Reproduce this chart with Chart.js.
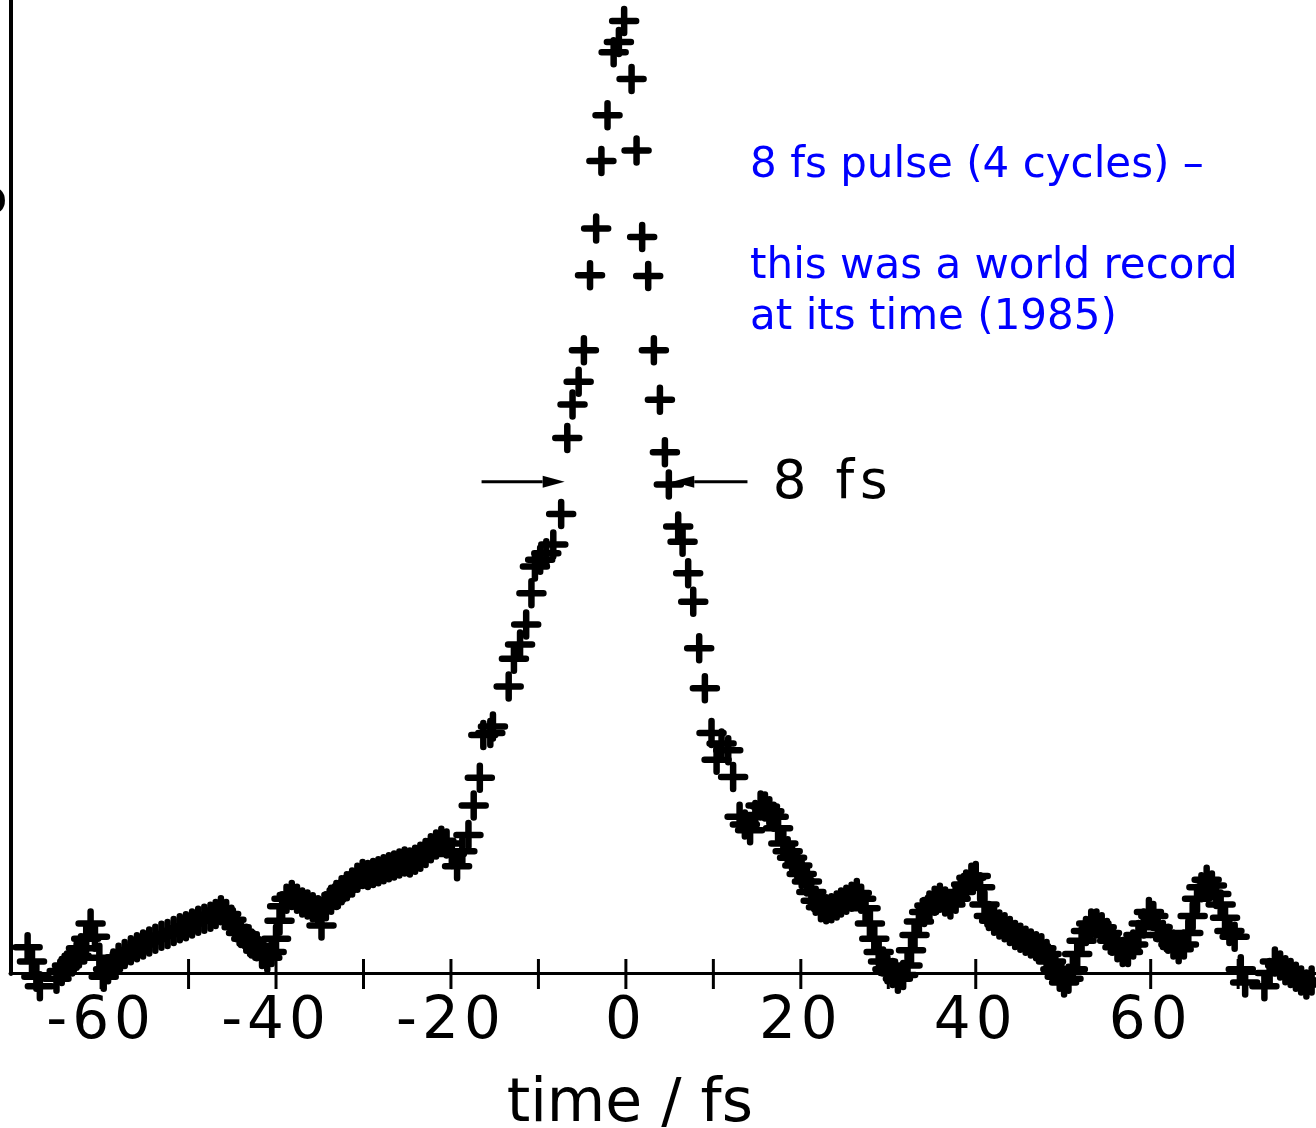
<!DOCTYPE html>
<html>
<head>
<meta charset="utf-8">
<script src="https://cdn.jsdelivr.net/npm/chart.js@4.4.1/dist/chart.umd.min.js"></script>
<style>
  html, body { margin: 0; padding: 0; background: #fff; }
  #wrap { width: 1316px; height: 1128px; }
</style>
</head>
<body>
<div id="wrap"><canvas id="pulseChart"></canvas></div>
<script>
// ─── DATA (time in fs, signal normalised to peak = 1) ───────────────────────
const leftWingTime = [
  -68.4, -67.9, -67.4, -67.0, -66.5, -66.1, -65.6, -65.1, -64.5, -63.9, -63.3, -62.8,
  -62.3, -61.7, -61.2, -60.7, -60.2, -59.7, -59.2, -58.6, -58.0, -57.3, -56.6, -55.9,
  -55.2, -54.5, -53.8, -53.1, -52.4, -51.7, -51.0, -50.3, -49.6, -48.9, -48.2, -47.5,
  -46.9, -46.3, -45.7, -45.1, -44.5, -44.0, -43.4, -42.8, -42.2, -41.6, -41.0, -40.5,
  -40.0, -39.6, -39.3, -38.8, -38.2, -37.6, -37.0, -36.4, -35.8, -35.2, -34.8, -34.3,
  -33.7, -33.1, -32.5, -31.9, -31.3, -30.7, -30.1, -29.5, -28.9, -28.3, -27.7, -27.1,
  -26.5, -25.9, -25.3, -24.7, -24.1, -23.5, -22.9, -22.3, -21.7, -21.1, -20.5, -19.9,
  -19.3, -18.7
];
const leftWingSignal = [
  0.027, 0.012, -0.004, -0.014, -0.028, -0.040, -0.022, -0.006, 0.002, 0.008, 0.012, 0.018,
  0.026, 0.036, 0.052, 0.038, 0.016, -0.004, 0.004, 0.010, 0.016, 0.020, 0.024, 0.027,
  0.030, 0.033, 0.036, 0.039, 0.041, 0.044, 0.047, 0.049, 0.052, 0.055, 0.057, 0.059,
  0.062, 0.066, 0.062, 0.056, 0.048, 0.042, 0.036, 0.031, 0.028, 0.020, 0.016, 0.022,
  0.036, 0.055, 0.070, 0.078, 0.082, 0.078, 0.074, 0.072, 0.069, 0.066, 0.050, 0.070,
  0.077, 0.082, 0.087, 0.091, 0.095, 0.100, 0.104, 0.103, 0.105, 0.107, 0.109, 0.111,
  0.113, 0.115, 0.117, 0.116, 0.119, 0.122, 0.126, 0.131, 0.135, 0.139, 0.136, 0.125,
  0.112, 0.128
];

const pulseTime = [
  -18.0, -17.4, -16.7, -16.3, -15.5, -15.2, -13.4, -12.8, -12.1, -11.4, -10.8, -10.4,
  -9.8, -9.1, -8.3, -7.4, -6.7, -6.1, -5.4, -4.8, -4.1, -3.4, -2.8, -2.1, -1.4, -0.8,
  -0.2, 0.65, 1.22, 1.86, 2.55, 3.2, 3.89, 4.46, 4.91, 5.98, 6.48, 7.12, 7.7, 8.38,
  9.03, 9.79, 10.37, 10.94, 11.7, 12.26
];
const pulseSignal = [
  0.145, 0.176, 0.205, 0.250, 0.252, 0.259, 0.301, 0.330, 0.345, 0.366, 0.399, 0.427,
  0.434, 0.441, 0.450, 0.482, 0.562, 0.597, 0.621, 0.654, 0.733, 0.782, 0.853, 0.901, 0.967, 0.978,
  1.000, 0.939, 0.864, 0.773, 0.732, 0.654, 0.602, 0.547, 0.513, 0.469, 0.453, 0.420, 0.390, 0.341,
  0.299, 0.252, 0.224, 0.241, 0.234, 0.206
];

const rightWingTime = [
  13.0, 13.6, 14.2, 14.8, 15.4, 15.9, 16.4, 16.9, 17.4, 18.0, 18.5, 19.0, 19.6, 20.1,
  20.7, 21.2, 21.7, 22.3, 22.9, 23.5, 24.1, 24.6, 25.2, 25.8, 26.4, 26.9, 27.4, 27.9,
  28.4, 28.9, 29.4, 29.9, 30.5, 31.1, 31.7, 32.2, 32.6, 33.0, 33.5, 34.1, 34.7, 35.3,
  35.9, 36.5, 37.1, 37.7, 38.3, 38.9, 39.5, 40.0, 40.5, 41.0, 41.5, 42.1, 42.7, 43.3,
  43.9, 44.5, 45.1, 45.7, 46.3, 46.9, 47.5, 48.1, 48.6, 49.1, 49.6, 50.1, 50.6, 51.1,
  51.6, 52.1, 52.6, 53.2, 53.8, 54.4, 55.0, 55.6, 56.2, 56.8, 57.4, 58.0, 58.6, 59.2,
  59.8, 60.3, 60.8, 61.4, 62.0, 62.6, 63.2, 63.8, 64.3, 64.8, 65.3, 65.8, 66.4, 67.0,
  67.5, 68.0, 68.5, 69.0, 69.6, 70.3, 70.8, 71.3, 71.9, 72.5, 73.0, 73.6, 74.2, 74.8,
  75.4, 76.0, 76.6, 77.2, 77.8, 78.4
];
const rightWingSignal = [
  0.164, 0.156, 0.150, 0.166, 0.176, 0.175, 0.170, 0.164, 0.152, 0.136, 0.128, 0.121, 0.113, 0.104,
  0.096, 0.085, 0.076, 0.069, 0.067, 0.068, 0.071, 0.074, 0.077, 0.080, 0.084, 0.078, 0.068, 0.052,
  0.036, 0.022, 0.012, 0.004, 0.000, -0.006, -0.002, 0.008, 0.024, 0.040, 0.054, 0.064, 0.071, 0.076,
  0.079, 0.075, 0.072, 0.078, 0.085, 0.093, 0.100, 0.102, 0.090, 0.072, 0.060, 0.055, 0.051, 0.048,
  0.044, 0.040, 0.037, 0.034, 0.031, 0.028, 0.026, 0.020, 0.012, 0.004, -0.004, -0.010, -0.006, 0.004,
  0.020, 0.034, 0.044, 0.052, 0.052, 0.048, 0.042, 0.034, 0.027, 0.022, 0.022, 0.030, 0.040, 0.052,
  0.064, 0.060, 0.048, 0.040, 0.036, 0.030, 0.025, 0.030, 0.042, 0.060, 0.078, 0.090, 0.098, 0.092,
  0.083, 0.072, 0.058, 0.044, 0.038, 0.004, -0.010, -0.029, -0.050, -0.030, -0.014, 0.000, 0.012, 0.008,
  0.003, 0.000, -0.004, -0.008, -0.012, -0.008
];

const xTickLabels = [-60, -40, -20, 0, 20, 40, 60];
const noteLines = ['8 fs pulse (4 cycles) –', '', 'this was a world record', 'at its time (1985)'];

// ─── HELPERS ──────────────────────────────────────────────────────────────────
const toPoints = (ts, vs) => ts.map((t, i) => ({ x: t, y: vs[i] }));
const allPoints = [
  ...toPoints(leftWingTime, leftWingSignal),
  ...toPoints(pulseTime, pulseSignal),
  ...toPoints(rightWingTime, rightWingSignal)
];

function arrow(ctx, x0, x1, y) {
  const dir = Math.sign(x1 - x0);
  const head = 22;
  ctx.beginPath();
  ctx.moveTo(x0, y);
  ctx.lineTo(x1 - dir * head, y);
  ctx.stroke();
  ctx.beginPath();
  ctx.moveTo(x1, y);
  ctx.lineTo(x1 - dir * head, y - 6);
  ctx.lineTo(x1 - dir * head, y + 6);
  ctx.closePath();
  ctx.fill();
}

// extra drawing: crossing tick marks, FWHM arrows, labels
const decorations = {
  id: 'decorations',
  beforeDraw(chart) {
    chart.ctx.letterSpacing = '5px';
    chart.ctx.lineCap = 'round';
  },
  afterDraw(chart) {
    const { ctx, scales: { x, y } } = chart;
    const y0 = y.getPixelForValue(0);
    ctx.save();
    ctx.letterSpacing = '0px';
    ctx.lineCap = 'butt';
    ctx.strokeStyle = '#000';
    ctx.fillStyle = '#000';
    ctx.lineWidth = 3;
    x.ticks.forEach(tk => {
      if (tk.value < -69) return;
      const px = x.getPixelForValue(tk.value);
      ctx.beginPath();
      ctx.moveTo(px, y0 - 14);
      ctx.lineTo(px, y0 + 16);
      ctx.stroke();
    });

    // FWHM arrows
    const ya = y.getPixelForValue(0.516);
    arrow(ctx, x.getPixelForValue(-16.5), x.getPixelForValue(-7.0), ya);
    arrow(ctx, x.getPixelForValue(13.9), x.getPixelForValue(5.3), ya);

    ctx.font = '53px "DejaVu Sans"';
    ctx.letterSpacing = '6px';
    ctx.textAlign = 'left';
    ctx.textBaseline = 'alphabetic';
    ctx.fillText('8 fs', x.getPixelForValue(16.8), y.getPixelForValue(0.499));

    // axis title
    ctx.letterSpacing = '0px';
    ctx.font = '60px "DejaVu Sans"';
    ctx.textAlign = 'center';
    ctx.fillText('time / fs', x.getPixelForValue(0.45), 1121);

    // clipped glyph at left edge
    ctx.font = 'bold 50px "DejaVu Sans"';
    ctx.textAlign = 'right';
    ctx.fillText('o', 7, 214);

    // blue note
    ctx.fillStyle = '#0000ff';
    ctx.font = '42px "DejaVu Sans"';
    ctx.textAlign = 'left';
    const nx = x.getPixelForValue(14.2);
    const ny = y.getPixelForValue(0.836);
    noteLines.forEach((line, i) => ctx.fillText(line, nx, ny + i * 50.5));
    ctx.restore();
  }
};

new Chart(document.getElementById('pulseChart'), {
  type: 'scatter',
  data: {
    datasets: [{
      data: allPoints,
      pointStyle: 'cross',
      pointRadius: 12,
      pointHoverRadius: 12,
      borderWidth: 6.5,
      borderColor: '#000',
      backgroundColor: '#000',
      clip: false
    }]
  },
  options: {
    responsive: true,
    maintainAspectRatio: false,
    animation: false,
    layout: { autoPadding: false, padding: { left: 11, right: 0, top: 0, bottom: 55 } },
    plugins: { legend: { display: false }, tooltip: { enabled: false } },
    scales: {
      x: {
        type: 'linear',
        min: -70.3,
        max: 78.9,
        grid: { display: false, drawTicks: false },
        border: { display: true, color: '#000', width: 3 },
        ticks: {
          stepSize: 10,
          includeBounds: false,
          autoSkip: false,
          maxRotation: 0,
          padding: 21,
          color: '#000',
          font: { family: 'DejaVu Sans', size: 58, lineHeight: 1 },
          callback: v => xTickLabels.includes(v) ? String(v) : ''
        },
        afterFit: s => { s.paddingLeft = 0; s.paddingRight = 0; }
      },
      y: {
        min: 0,
        max: 1.022,
        grid: { display: false, drawTicks: false },
        border: { display: true, color: '#000', width: 4 },
        ticks: { display: false },
        afterFit: s => { s.width = 0; }
      }
    }
  },
  plugins: [decorations]
});
</script>
</body>
</html>
